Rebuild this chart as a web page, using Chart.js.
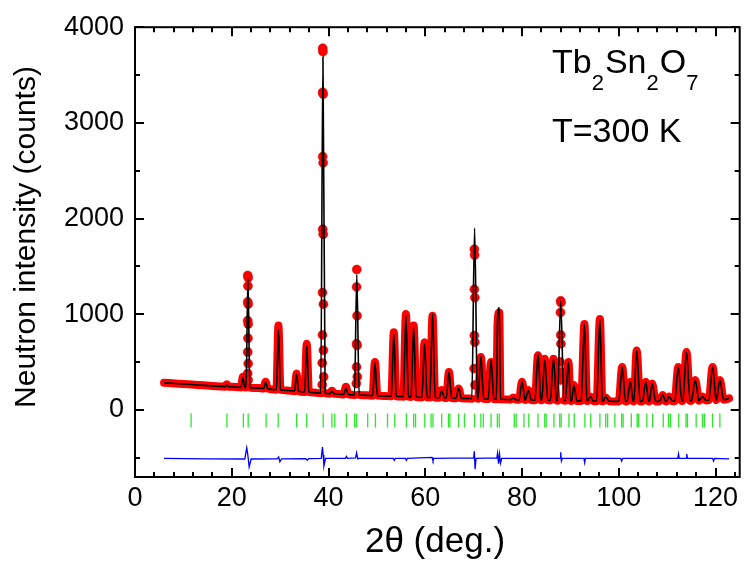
<!DOCTYPE html>
<html>
<head>
<meta charset="utf-8">
<script src="https://cdn.jsdelivr.net/npm/chart.js@4.4.0/dist/chart.umd.min.js"></script>
<style>
  html, body { margin: 0; padding: 0; background: #fff; }
</style>
</head>
<body>
<canvas id="chart" width="748" height="562"></canvas>
<script>
// background level under the pattern (counts)
const bgX = [6, 9, 13, 16, 20, 25.5, 31.5, 37, 42, 48, 51.5, 55, 63, 68.5, 77, 82.3, 91.8, 95, 99, 108, 111.5, 118, 122.8];
const bgY = [285, 275, 262, 252, 243, 229, 205, 182, 168, 153, 147, 141, 128, 121, 110, 103, 95, 92, 90, 90, 92, 102, 122];

// peaks: position (deg), base level, calculated top, observed top (counts)
const peakPos  = [19.0, 22.3, 23.35, 27.0, 29.65, 33.4, 35.5, 38.85, 40.7, 43.6, 45.85, 49.6, 53.5, 56.0, 57.6, 59.85, 61.5, 63.4, 64.9, 66.9, 70.2, 71.5, 73.6, 74.95, 75.3, 78.2, 80.0, 81.3, 83.3, 84.7, 86.5, 88.0, 89.6, 90.7, 92.9, 94.1, 96.1, 97.3, 100.7, 102.4, 103.7, 105.6, 106.9, 109.1, 110.4, 112.3, 114.0, 115.8, 117.3, 119.4, 120.9];
const peakBase = [244, 236, 234, 224, 212, 196, 188, 176, 171, 163, 158, 150, 143, 139, 136, 132, 130, 128, 125, 122, 118, 117, 114, 112, 112, 108, 106, 104, 102, 101, 100, 98, 96, 95, 94, 93, 92, 91, 90, 90, 90, 90, 90, 90, 91, 93, 95, 98, 100, 104, 108];
const peakCalc = [262, 340, 1375, 290, 840, 372, 670, 3690, 195, 228, 1416, 492, 795, 985, 864, 692, 1009, 200, 398, 226, 1900, 564, 523, 950, 1071, 125, 295, 209, 588, 520, 536, 1141, 502, 261, 899, 140, 950, 140, 450, 295, 623, 295, 277, 157, 140, 450, 606, 313, 140, 450, 313];
const peakObs  = [268, 347, 1406, 295, 882, 381, 692, 3780, 200, 243, 1468, 502, 813, 1002, 882, 709, 985, 209, 398, 226, 1680, 554, 502, 900, 1020, 130, 295, 209, 571, 536, 536, 1141, 502, 261, 899, 140, 950, 130, 450, 295, 623, 295, 277, 157, 140, 450, 606, 313, 140, 450, 313];

// observed points seen along the tallest peaks
const dotX = [23.3, 23.4, 23.35, 23.3, 23.4, 23.3, 23.4, 23.35, 23.3, 23.4, 23.3, 23.4,
              38.8, 38.85, 38.8, 38.9, 38.8, 38.9, 38.8, 38.9, 38.75, 38.95, 38.75, 38.95, 38.7, 39.0, 38.7,
              45.85, 45.8, 45.9, 45.8, 45.9, 45.8, 45.95, 45.75,
              70.15, 70.2, 70.15, 70.25, 70.15, 70.25, 70.1, 70.3,
              88.0, 88.05, 87.95, 88.0, 88.05, 87.9, 88.1, 87.9];
const dotY = [1406, 1382, 1296, 1130, 1106, 934, 899, 750, 606, 485, 381, 313,
              3780, 3745, 3321, 3300, 2648, 2583, 1889, 1837, 1227, 1106, 785, 625, 492, 347, 264,
              1468, 1286, 985, 692, 675, 450, 347, 277,
              1680, 1620, 1261, 1175, 778, 709, 433, 261,
              1141, 1123, 1020, 784, 692, 502, 398, 313];

// Bragg reflection markers (deg)
const braggPos = [11.6, 19.0, 22.4, 23.4, 27.1, 29.6, 33.4, 35.5, 38.9, 40.7, 41.3, 43.7, 45.4, 45.8, 48.1, 49.7, 52.2, 53.7, 56.1, 57.6, 58.0, 59.9, 61.2, 61.6, 63.4, 64.8, 65.1, 66.9, 68.1, 70.2, 71.5, 72.0, 73.6, 74.9, 75.3, 78.4, 78.8, 80.4, 81.4, 83.3, 84.7, 85.0, 86.6, 87.8, 88.1, 89.7, 90.8, 93.0, 94.2, 96.1, 97.3, 97.7, 99.2, 100.6, 100.9, 102.6, 103.8, 104.1, 105.8, 107.0, 109.2, 110.3, 110.7, 112.4, 113.9, 114.2, 116.0, 117.3, 117.7, 119.4, 120.9];
const braggLevel = -109;

// difference curve (obs - calc, offset)
const diffX = [6, 15, 22.7, 23.1, 23.35, 23.6, 24.0, 29.4, 29.7, 29.95, 30.3, 35.3, 35.6, 35.9, 38.5, 38.75, 38.9, 39.05, 39.4, 43.5, 43.7, 43.9, 45.6, 45.8, 46.05, 46.3, 53.4, 53.6, 53.8, 55.9, 56.1, 56.3, 61.4, 61.6, 61.8, 70.0, 70.15, 70.3, 70.5, 74.8, 74.95, 75.15, 75.35, 75.55, 75.8, 87.9, 88.0, 88.15, 88.35, 92.8, 92.95, 93.1, 100.4, 100.6, 100.8, 112.2, 112.35, 112.5, 113.9, 114.05, 114.2, 119.4, 119.6, 119.8, 122.8];
const diffY = [-506, -510, -512, -396, -480, -595, -512, -510, -490, -540, -510, -508, -525, -508, -505, -388, -470, -585, -505, -505, -485, -505, -500, -447, -510, -505, -505, -525, -505, -505, -525, -505, -495, -530, -505, -500, -430, -619, -505, -500, -450, -560, -460, -555, -505, -505, -442, -533, -505, -505, -550, -505, -505, -533, -505, -505, -460, -505, -505, -460, -505, -505, -533, -505, -510];

const xTicks = [0, 20, 40, 60, 80, 100, 120];
const yTicks = [0, 1000, 2000, 3000, 4000];

const FONT = "'Liberation Sans', Arial, sans-serif";

// half width of a peak at its base, grows with angle
function halfWidth(p) {
  return 0.3 + 0.004 * p;
}

// line through the background with a narrow peak at each reflection
function profile(tops) {
  const pts = [];
  bgX.forEach((x, i) => {
    const inside = peakPos.some(p => Math.abs(x - p) < halfWidth(p) + 0.2);
    if (!inside) pts.push({ x: x, y: bgY[i] });
  });
  peakPos.forEach((p, i) => {
    const hw = halfWidth(p);
    pts.push({ x: p - hw, y: peakBase[i] }, { x: p, y: tops[i] }, { x: p + hw, y: peakBase[i] });
  });
  pts.sort((a, b) => a.x - b.x);
  return pts;
}

const frame = {
  id: 'frame',
  afterDatasetsDraw(chart) {
    const { ctx, chartArea: a, scales: { x, y } } = chart;
    ctx.save();
    ctx.strokeStyle = '#000';
    ctx.lineWidth = 2;
    ctx.strokeRect(a.left, a.top, a.right - a.left, a.bottom - a.top);
    ctx.beginPath();
    for (let v = 0; v <= 124; v += 4) {
      const px = Math.round(x.getPixelForValue(v));
      const len = v % 20 === 0 ? 9 : 5;
      ctx.moveTo(px, a.bottom); ctx.lineTo(px, a.bottom - len);
      ctx.moveTo(px, a.top); ctx.lineTo(px, a.top + len);
    }
    for (let v = -500; v <= 4000; v += 500) {
      const py = Math.round(y.getPixelForValue(v));
      const len = v % 1000 === 0 ? 9 : 5;
      ctx.moveTo(a.left, py); ctx.lineTo(a.left + len, py);
      ctx.moveTo(a.right, py); ctx.lineTo(a.right - len, py);
    }
    ctx.stroke();

    ctx.fillStyle = '#000';
    // axis titles
    ctx.textAlign = 'center';
    ctx.textBaseline = 'alphabetic';
    ctx.font = '30px ' + FONT;
    ctx.save();
    ctx.translate(35, 237);
    ctx.rotate(-Math.PI / 2);
    ctx.fillText('Neutron intensity (counts)', 0, 0);
    ctx.restore();
    ctx.font = '35px ' + FONT;
    ctx.fillText('2\u03B8 (deg.)', 435, 552);

    // sample label
    ctx.textAlign = 'left';
    let cx = 552;
    const parts = [['Tb', 0], ['2', 1], ['Sn', 0], ['2', 1], ['O', 0], ['7', 1]];
    parts.forEach(([t, sub]) => {
      ctx.font = (sub ? '22px ' : '34px ') + FONT;
      ctx.fillText(t, cx, sub ? 90 : 73);
      cx += ctx.measureText(t).width + (sub ? 1 : 0);
    });
    ctx.font = '34px ' + FONT;
    ctx.fillText('T=300 K', 552, 142);
    ctx.restore();
  }
};

const red = '#ff0000';

new Chart(document.getElementById('chart'), {
  type: 'scatter',
  data: {
    datasets: [
      {
        label: 'Calculated',
        type: 'line',
        data: profile(peakCalc),
        borderColor: '#000',
        borderWidth: 1.6,
        pointRadius: 0,
        cubicInterpolationMode: 'monotone',
        order: 0
      },
      {
        label: 'Observed points',
        data: dotX.map((x, i) => ({ x: x, y: dotY[i] })),
        backgroundColor: red,
        borderColor: 'rgba(190,0,0,0.5)',
        borderWidth: 1,
        pointRadius: 4.5,
        order: 1
      },
      {
        label: 'Observed',
        type: 'line',
        data: profile(peakObs),
        borderColor: red,
        borderWidth: 8,
        borderJoinStyle: 'round',
        borderCapStyle: 'round',
        pointRadius: 0,
        cubicInterpolationMode: 'monotone',
        segment: {
          borderColor: c => Math.abs(c.p1.parsed.y - c.p0.parsed.y) > 1000 ? 'rgba(0,0,0,0)' : red
        },
        order: 2
      },
      {
        label: 'Bragg',
        data: braggPos.map(x => ({ x: x, y: braggLevel })),
        pointStyle: 'line',
        rotation: 90,
        pointRadius: 7,
        borderColor: '#2ee62e',
        borderWidth: 1.3,
        order: 3
      },
      {
        label: 'Difference',
        type: 'line',
        data: diffX.map((x, i) => ({ x: x, y: diffY[i] })),
        borderColor: '#0000ff',
        borderWidth: 1.3,
        pointRadius: 0,
        order: 3
      }
    ]
  },
  options: {
    responsive: false,
    devicePixelRatio: 1,
    animation: false,
    layout: { padding: { top: 22, right: 1, left: 0, bottom: 0 } },
    plugins: { legend: { display: false }, tooltip: { enabled: false } },
    scales: {
      x: {
        type: 'linear',
        min: 0,
        max: 125,
        grid: { display: false, drawTicks: false },
        border: { display: false },
        afterBuildTicks: s => { s.ticks = xTicks.map(v => ({ value: v })); },
        afterFit: s => { s.height = 85; },
        ticks: { padding: 5, maxRotation: 0, autoSkip: false, color: '#000', font: { size: 27, family: FONT }, callback: v => String(v) }
      },
      y: {
        min: -700,
        max: 4000,
        grid: { display: false, drawTicks: false },
        border: { display: false },
        afterBuildTicks: s => { s.ticks = yTicks.map(v => ({ value: v })); },
        afterFit: s => { s.width = 135; },
        ticks: { padding: 11, color: '#000', font: { size: 27, family: FONT }, callback: v => String(v) }
      }
    }
  },
  plugins: [frame]
});
</script>
</body>
</html>
